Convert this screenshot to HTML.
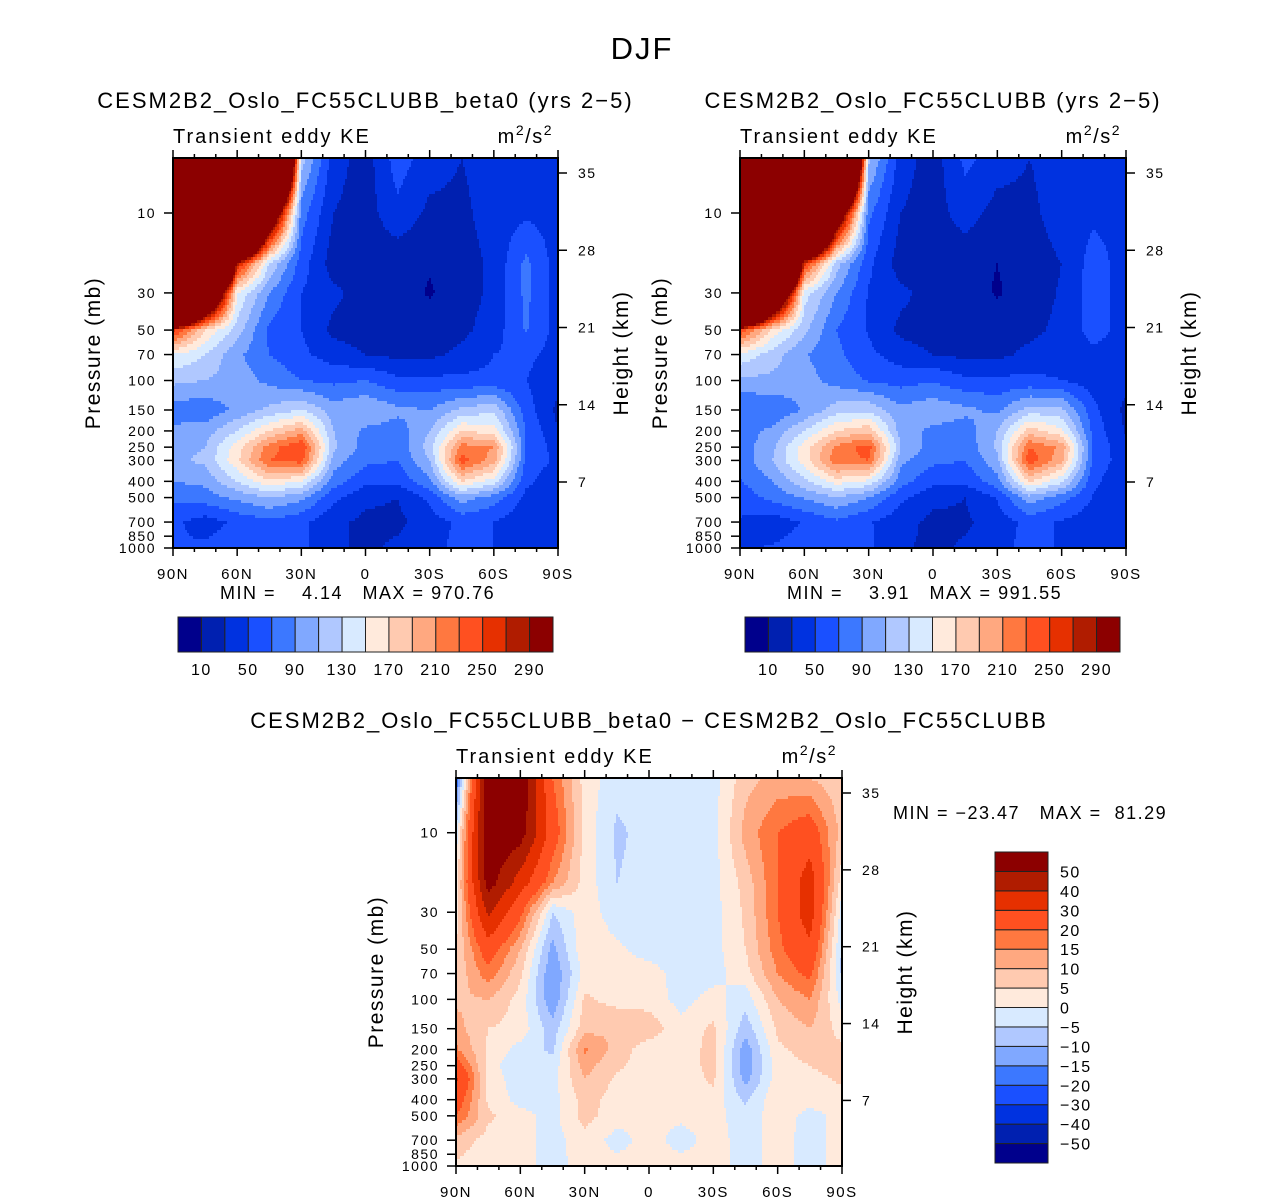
<!DOCTYPE html>
<html><head><meta charset="utf-8">
<style>
html,body{margin:0;padding:0;background:#fff;}
#root{position:relative;width:1285px;height:1204px;overflow:hidden;font-family:"Liberation Sans",sans-serif;}
svg text{font-family:"Liberation Sans",sans-serif;fill:#000;letter-spacing:1.5px;}
svg text.wide{letter-spacing:2px;}
</style></head>
<body>
<div id="root">
<svg id="svg" width="1285" height="1204" xmlns="http://www.w3.org/2000/svg">
<text x="642" y="59" font-size="31" text-anchor="middle" class="wide">DJF</text>
</svg>
</div>
<script>
// ---- data ----
const lats = [90,75,60,45,30,15,0,-15,-30,-45,-60,-75,-90];
const pressures = [4.7,10,20,30,50,70,100,150,200,250,300,400,500,700,1000];
const pressureTicks = [10,30,50,70,100,150,200,250,300,400,500,700,850,1000];
const heightTicks = [35,28,21,14,7];
const latTickLabels = ["90N","60N","30N","0","30S","60S","90S"];
const levelsTop = [10,30,50,70,90,110,130,150,170,190,210,230,250,270,290];
const levelsDiff = [-50,-40,-30,-20,-15,-10,-5,0,5,10,15,20,30,40,50];
const topBarLabels = ["10","50","90","130","170","210","250","290"];
const diffBarLabels = ["50","40","30","20","15","10","5","0","\u22125","\u221210","\u221215","\u221220","\u221230","\u221240","\u221250"];
const dataA = [
[1000,1000,1000,1000,120,40,20,60,40,30,40,48,42],
[1000,1000,1000,400,80,30,20,45,25,25,40,46,42],
[1000,1000,280,130,60,20,20,15,12,20,35,75,40],
[1000,500,150,90,50,35,20,20,8,20,35,75,40],
[260,170,120,65,50,25,20,20,20,25,40,72,42],
[150,130,95,70,55,40,30,25,25,35,50,55,42],
[115,110,100,85,70,65,70,55,55,55,55,50,35],
[80,75,95,115,130,100,110,95,90,115,125,60,25],
[95,100,130,170,200,110,85,80,110,170,160,70,30],
[100,110,160,220,250,115,80,75,120,220,210,70,40],
[105,115,165,230,240,100,75,70,110,240,200,65,45],
[90,95,130,165,150,80,55,55,85,170,140,55,35],
[75,80,95,110,95,55,35,30,55,100,80,45,30],
[55,40,55,65,55,35,25,25,40,55,50,35,30],
[50,55,60,55,55,35,25,35,45,55,50,45,40]];
const dataB = [
[1000,1000,1000,1000,115,40,20,55,40,30,40,46,42],
[1000,1000,1000,380,75,30,20,40,22,25,40,45,42],
[1000,1000,260,120,55,20,20,15,10,20,30,60,40],
[1000,480,140,90,48,35,22,20,8,20,32,60,40],
[250,165,115,70,48,25,20,20,20,25,35,58,42],
[145,120,92,75,55,40,30,25,25,35,45,45,42],
[105,105,98,82,68,62,68,55,55,55,50,40,35],
[70,72,92,120,125,95,105,95,85,120,115,55,25],
[80,95,130,170,185,100,85,80,110,180,155,62,28],
[78,105,160,215,240,110,80,75,115,230,205,65,35],
[75,110,160,225,230,95,75,70,105,245,195,62,40],
[68,90,125,160,145,78,55,55,82,172,135,55,32],
[58,76,92,108,90,55,35,30,52,102,78,48,30],
[48,38,52,66,52,37,25,27,38,57,48,38,30],
[46,52,58,57,53,33,25,33,43,57,48,48,40]];
const dataDiff = [
[-20,60,60,20,3,-3,-3,-5,-2,8,12,10,6],
[-3,60,55,25,3,-6,-3,-2,-2,12,20,25,8],
[2,55,35,15,3,-5,-3,-3,-2,7,20,35,2],
[3,42,22,-5,3,-3,-3,-3,-2,6,20,35,-3],
[5,25,10,-12,4,1,-2,-2,-2,5,18,28,-6],
[6,18,6,-15,2,2,2,-2,-2,3,15,22,-6],
[9,10,3,-14,6,3,3,-2,2,-3,10,15,-2],
[12,5,3,-8,8,10,8,2,6,-8,6,10,3],
[16,4,-2,-6,16,8,2,2,7,-13,4,7,6],
[25,3,-5,-3,12,6,2,2,7,-14,3,5,8],
[32,3,-3,-2,10,4,2,2,6,-12,3,3,6],
[25,4,-2,-2,7,3,2,2,3,-6,4,2,3],
[20,6,2,-2,7,2,1,1,2,-3,3,-2,2],
[8,3,2,-2,3,-2,2,-2,2,-2,2,-2,2],
[4,2,2,-2,2,2,2,2,2,-2,2,-2,2]];
const palette = ["#00008c","#0020b0","#0032e0","#1a50ff","#3c78ff","#80a8ff","#b0c8ff","#d8eaff","#ffeadc","#ffcab0","#ffa880","#ff7840","#ff5020","#e63000","#b01c00","#8c0000"];

// ---- helpers ----
const NS="http://www.w3.org/2000/svg";
const svg=document.getElementById('svg');
function mk(tag,attrs,parent){const e=document.createElementNS(NS,tag);for(const k in attrs)e.setAttribute(k,attrs[k]);(parent||svg).appendChild(e);return e;}
function txt(x,y,s,size,anchor,parent){const t=mk('text',{x:x,y:y,'font-size':size,'text-anchor':anchor||'start'},parent);t.textContent=s;return t;}
function levelIdx(v,levels){let i=0;while(i<levels.length&&v>=levels[i])i++;return i;}

function drawPanel(cfg){
  const g=mk('g',{});
  
  
  const {x0,y0,w,h,data,levels}=cfg;
  const xScale=lat=>x0+(90-lat)/180*w;
  const yScale=p=>y0+h-(3-Math.log10(p))*167.5*(h/390);
  const rowY=pressures.map(yScale);
  function val(px,py){
    const lat=90-(px-x0)/w*180;
    let ci=Math.min(11,Math.max(0,Math.floor((90-lat)/15)));
    const tx=Math.min(1,Math.max(0,((90-lat)-ci*15)/15));
    let ri=0;while(ri<rowY.length-2&&py>rowY[ri+1])ri++;
    const ty=Math.min(1,Math.max(0,(py-rowY[ri])/(rowY[ri+1]-rowY[ri])));
    const a=data[ri][ci],b=data[ri][ci+1],c=data[ri+1][ci],d=data[ri+1][ci+1];
    return (a*(1-tx)+b*tx)*(1-ty)+(c*(1-tx)+d*tx)*ty;
  }
  const cells=mk('g',{},g);
  
  
  const dx=2,dy=3;
  function flush(xs,xe,py,hh,idx){
    const r=mk('rect',{x:xs,y:py,width:xe-xs+0.6,height:hh+0.6,fill:palette[idx]},cells);
    
    
  }
  for(let py=y0;py<y0+h;py+=dy){
    const hh=Math.min(dy,y0+h-py);
    let runStart=x0,runIdx=-1;
    for(let px=x0;px<x0+w;px+=dx){
      const idx=levelIdx(val(Math.min(px+1,x0+w),py+hh/2),levels);
      if(idx!==runIdx){
        if(runIdx>=0) flush(runStart,px,py,hh,runIdx);
        runStart=px;runIdx=idx;
      }
    }
    if(runIdx>=0) flush(runStart,x0+w,py,hh,runIdx);
  }
  const frame=mk('rect',{x:x0,y:y0,width:w,height:h,fill:'none',stroke:'#000','stroke-width':2},g);
  
  
  for(let lat=90;lat>=-90;lat-=10){
    const x=xScale(lat);const major=lat%30===0;const L=major?8:4;
    mk('line',{x1:x,y1:y0+h,x2:x,y2:y0+h+L,stroke:'#000','stroke-width':1.5},g);
    mk('line',{x1:x,y1:y0,x2:x,y2:y0-L,stroke:'#000','stroke-width':1.5},g);
  }
  latTickLabels.forEach((s,i)=>{
    const t=txt(xScale(90-i*30),y0+h+31,s,15,'middle',g);
    
    
  });
  pressureTicks.forEach(p=>{
    const y=yScale(p);
    mk('line',{x1:x0,y1:y,x2:x0-9,y2:y,stroke:'#000','stroke-width':1.5},g);
    const t=txt(x0-17,y+5,String(p),14,'end',g);
    
    
  });
  heightTicks.forEach(km=>{
    const y=y0+15+(35-km)*(309/28)*(h/390);
    mk('line',{x1:x0+w,y1:y,x2:x0+w+9,y2:y,stroke:'#000','stroke-width':1.5},g);
    const t=txt(x0+w+20,y+5,String(km),14,'start',g);
    
    
  });
  const yl=txt(0,0,'Pressure (mb)',21,'middle',g);
  yl.setAttribute('transform',`translate(${x0-73},${y0+h/2}) rotate(-90)`);
  
  
  const hl=txt(0,0,'Height (km)',21,'middle',g);
  hl.setAttribute('transform',`translate(${x0+w+70},${y0+h/2}) rotate(-90)`);
  
  
  const vt=txt(x0,y0-15,'Transient eddy KE',20,'start',g);
  vt.setAttribute('class','wide');
  
  
  const ut=mk('text',{x:x0+w-5,y:y0-15,'font-size':20,'text-anchor':'end'},g);
  ut.innerHTML='m<tspan dy="-8" font-size="14">2</tspan><tspan dy="8">/s</tspan><tspan dy="-8" font-size="14">2</tspan>';
  
  
  const tt=txt(x0+w/2,y0-50,cfg.title,22,'middle',g);
  tt.setAttribute('class','wide');
  
  
}

function hbar(x0,y0,w,h,name){
  const g=mk('g',{});
  
  
  const bw=w/16;
  palette.forEach((c,i)=>{
    const r=mk('rect',{x:x0+i*bw,y:y0,width:bw,height:h,fill:c,stroke:'#222','stroke-width':1},g);
    
    
  });
  topBarLabels.forEach((s,i)=>{
    const t=txt(x0+(2*i+1)*bw,y0+h+23,s,16,'middle',g);
    
    
  });
}
function vbar(x0,y0,w,h){
  const g=mk('g',{});
  
  
  const bh=h/16;
  palette.forEach((c,i)=>{
    const r=mk('rect',{x:x0,y:y0+(15-i)*bh,width:w,height:bh,fill:c,stroke:'#222','stroke-width':1},g);
    
    
  });
  diffBarLabels.forEach((s,i)=>{
    const t=txt(x0+w+12,y0+(i+1)*bh+6,s,16,'start',g);
    
    
  });
}

drawPanel({name:'panel-beta0',x0:173,y0:158,w:385,h:390,data:dataA,levels:levelsTop,title:'CESM2B2_Oslo_FC55CLUBB_beta0 (yrs 2\u22125)'});
drawPanel({name:'panel-control',x0:740,y0:158,w:386,h:390,data:dataB,levels:levelsTop,title:'CESM2B2_Oslo_FC55CLUBB (yrs 2\u22125)'});
drawPanel({name:'panel-difference',x0:456,y0:778,w:386,h:388,data:dataDiff,levels:levelsDiff,title:'CESM2B2_Oslo_FC55CLUBB_beta0 \u2212 CESM2B2_Oslo_FC55CLUBB'});
hbar(178,617,375,35,'colorbar-beta0');
hbar(745,617,375,35,'colorbar-control');
vbar(995,852,53,311);

function stat(x,y,s,name){const t=txt(x,y,s,18,'start');t.style.whiteSpace='pre';}
stat(220,599,'MIN =    4.14   MAX = 970.76','stats-beta0');
stat(787,599,'MIN =    3.91   MAX = 991.55','stats-control');
stat(893,819,'MIN = \u221223.47   MAX =  81.29','stats-difference');
</script>
</body></html>
